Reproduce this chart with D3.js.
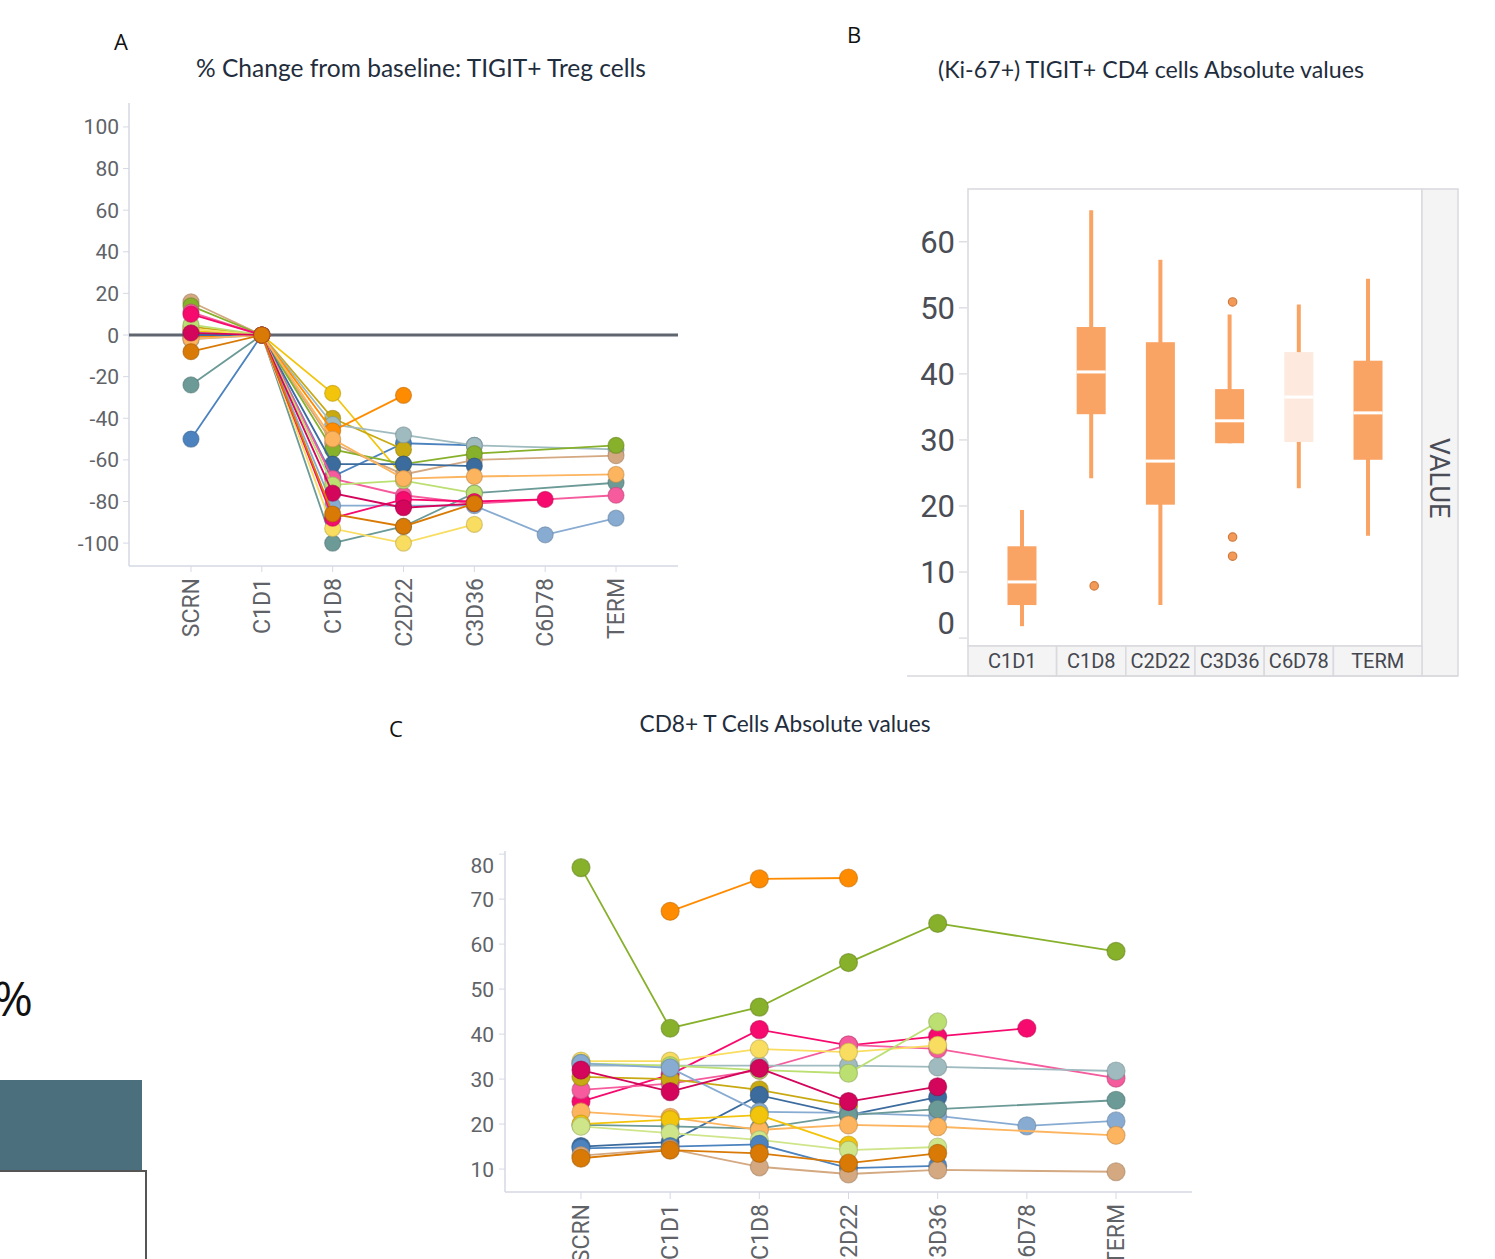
<!DOCTYPE html>
<html><head><meta charset="utf-8">
<script src="https://cdn.jsdelivr.net/npm/d3@7"></script>
<style>body{margin:0;background:#fff}svg{display:block}</style>
</head><body>
<svg id="chart" width="1495" height="1259"></svg>
<script>
// ---------- DATA ----------
const timeCats = ["SCRN","C1D1","C1D8","C2D22","C3D36","C6D78","TERM"];
const ticksA = [-100,-80,-60,-40,-20,0,20,40,60,80,100];
const colorsA = ["#6b9a97","#4c83bf","#f2c40c","#c8a912","#9fbbbf","#ff8c00","#d4a880","#87b02b","#3c6c9e","#f65b9e","#88abd2","#f9dd60","#bcdf72","#fdb45e","#f70a6e","#d3065c","#d97a06"];
const valsA = [
  [-24, 0, -100, -92, -76, null, -71],
  [-50, 0, -68, -52, -53, null, null],
  [2, 0, -28, -68, null, null, null],
  [4, 0, -40, -55, null, null, null],
  [1, 0, -43, -48, -53, null, -55],
  [-1, 0, -46, -29, null, null, null],
  [16, 0, -52, -67, -60, null, -58],
  [14, 0, -55, -62, -57, null, -53],
  [0, 0, -62, -62, -63, null, null],
  [11, 0, -69, -77, -81, null, -77],
  [-2, 0, -82, -82, -82, -96, -88],
  [3, 0, -93, -100, -91, null, null],
  [5, 0, -72, -70, -76, null, null],
  [-2, 0, -50, -69, -68, null, -67],
  [10, 0, -88, -79, -80, -79, null],
  [1, 0, -76, -83, -81, null, null],
  [-8, 0, -86, -92, -81, null, null]
];

const boxCats = ["C1D1","C1D8","C2D22","C3D36","C6D78","TERM"];
const boxLow  = [1.8, 24.2, 5.0, 29.5, 22.7, 15.5];
const boxQ1   = [5.0, 33.9, 20.2, 29.5, 29.7, 27.0];
const boxMed  = [8.5, 40.3, 26.8, 32.9, 36.5, 34.1];
const boxQ3   = [13.9, 47.1, 44.8, 37.7, 43.3, 42.0];
const boxHigh = [19.4, 64.8, 57.3, 49.0, 50.5, 54.4];
const boxFill = ["#f9a464","#f9a464","#f9a464","#f9a464","#fde9dd","#f9a464"];
const outlierCats = ["C1D8","C3D36","C3D36","C3D36"];
const outlierVals = [7.9, 50.9, 15.3, 12.4];
const ticksB = [0,10,20,30,40,50,60];

const ticksC = [10,20,30,40,50,60,70,80];
const colorsC = ["#87b02b","#ff8c00","#f70a6e","#f65b9e","#9fbbbf","#f9dd60","#bcdf72","#c8a912","#3c6c9e","#88abd2","#6b9a97","#fdb45e","#f2c40c","#cfe58a","#4c83bf","#d4a880","#d97a06","#d3065c"];
const valsC = [
  [77, 41.3, 46, 55.9, 64.6, null, 58.4],
  [null, 67.3, 74.5, 74.7, null, null, null],
  [25, 31, 41, 37.5, 39.5, 41.3, null],
  [27.6, 29, 32, 37.6, 36.7, null, 30.2],
  [33, 33, 33, 33, 32.7, null, 31.8],
  [34, 34, 36.7, 36, 37.5, null, null],
  [33.5, 33, 32, 31.3, 42.7, null, null],
  [30.5, 30, 27.6, 24, null, null, null],
  [15, 16, 26.4, 22, 26, null, null],
  [33.5, 32.5, 22.7, 22.5, 21.8, 19.6, 20.7],
  [19.8, 19.5, 19, 22, 23.3, null, 25.3],
  [22.7, 21.5, 18.7, 19.8, 19.4, null, 17.5],
  [20, 21, 22, 15.3, null, null, null],
  [19.5, 18, 16.5, 14.2, 14.9, null, null],
  [14.6, 15, 15.5, 10.2, 10.7, null, null],
  [13, 14.5, 10.5, 8.9, 9.8, null, 9.4],
  [12.4, 14.2, 13.5, 11.3, 13.5, null, null],
  [32, 27.2, 32.4, 25, 28.3, null, null]
];

// ---------- DRAW ----------
const svg = d3.select("#chart");
const axisCol = "#d6d9e4", labCol = "#5f6368";
const titleFont = "Lato, 'Open Sans', sans-serif";
const axFont = "Roboto, sans-serif";

function series(g, vals, colors, x, y, r) {
  vals.forEach((s, i) => {
    const pts = s.map((v, j) => ({c: timeCats[j], v})).filter(d => d.v != null);
    g.append("path").datum(pts)
      .attr("d", d3.line().x(d => x(d.c)).y(d => y(d.v)))
      .attr("fill", "none").attr("stroke", colors[i]).attr("stroke-width", 1.8);
    g.selectAll(null).data(pts).enter().append("circle")
      .attr("cx", d => x(d.c)).attr("cy", d => y(d.v)).attr("r", r)
      .attr("fill", colors[i]).attr("stroke", d3.color(colors[i]).darker(0.7)).attr("stroke-width", 1.2)
      .attr("stroke-opacity", 0.6);
  });
}

function text(x, y, str, size, opts = {}) {
  const t = svg.append("text").attr("x", x).attr("y", y).text(str)
    .attr("font-size", size).attr("font-family", opts.family || titleFont)
    .attr("fill", opts.fill || "#1f2d3d").attr("text-anchor", opts.anchor || "middle");
  if (opts.len) t.attr("textLength", opts.len).attr("lengthAdjust", "spacingAndGlyphs");
  return t;
}

// Panel letters & titles
text(121, 50, "A", 22, {fill: "#111", family: "'Open Sans', sans-serif"});
text(854, 43, "B", 22, {fill: "#111", family: "'Open Sans', sans-serif"});
text(396, 737, "C", 22, {fill: "#111", family: "'Open Sans', sans-serif"});
text(421, 77, "% Change from baseline: TIGIT+ Treg cells", 25, {len: 450});
text(1151, 78, "(Ki-67+)  TIGIT+ CD4 cells  Absolute   values", 23, {len: 426});
text(785, 732, "CD8+ T Cells Absolute values", 23, {len: 291});

// ---------- Panel A ----------
const gA = svg.append("g");
const xA = d3.scalePoint().domain(timeCats).range([129, 678]).padding(0.875);
const yA = d3.scaleLinear().domain([-111, 111.5]).range([566, 103]);
gA.append("line").attr("x1", 129).attr("x2", 129).attr("y1", 103).attr("y2", 566).attr("stroke", axisCol).attr("stroke-width", 1.5);
gA.append("line").attr("x1", 129).attr("x2", 678).attr("y1", 566).attr("y2", 566).attr("stroke", axisCol).attr("stroke-width", 1.5);
ticksA.forEach(v => {
  gA.append("line").attr("x1", 123).attr("x2", 129).attr("y1", yA(v)).attr("y2", yA(v)).attr("stroke", axisCol);
  gA.append("text").attr("x", 119).attr("y", yA(v)).attr("dy", "0.36em").attr("text-anchor", "end")
    .attr("font-family", axFont).attr("font-size", 21).attr("fill", labCol).text(v);
});
timeCats.forEach(c => {
  gA.append("line").attr("x1", xA(c)).attr("x2", xA(c)).attr("y1", 566).attr("y2", 572).attr("stroke", axisCol);
  gA.append("text").attr("transform", `translate(${xA(c)},578) rotate(-90)`).attr("dy", "0.36em")
    .attr("text-anchor", "end").attr("font-family", axFont).attr("font-size", 23).attr("fill", labCol).text(c);
});
gA.append("line").attr("x1", 129).attr("x2", 678).attr("y1", yA(0)).attr("y2", yA(0)).attr("stroke", "#5f6670").attr("stroke-width", 3);
series(gA, valsA, colorsA, xA, yA, 8);

// ---------- Panel B ----------
const gB = svg.append("g");
const xB = d3.scalePoint().domain(boxCats).range([968, 1422]).padding(0.78);
const yB = d3.scaleLinear().domain([-1.2, 68]).range([646, 189]);
const frameCol = "#d9d9de";
gB.append("rect").attr("x", 968).attr("y", 189).attr("width", 454).attr("height", 457).attr("fill", "#fff").attr("stroke", frameCol).attr("stroke-width", 1.5);
gB.append("rect").attr("x", 1422).attr("y", 189).attr("width", 36).attr("height", 487).attr("fill", "#f4f4f5").attr("stroke", frameCol).attr("stroke-width", 1.5);
gB.append("text").attr("transform", `translate(1440,478) rotate(90)`).attr("dy", "0.36em").attr("text-anchor", "middle")
  .attr("font-family", axFont).attr("font-size", 27).attr("fill", "#4a4d55").text("VALUE");
const edges = [968].concat(boxCats.slice(1).map((c, i) => (xB(boxCats[i]) + xB(c)) / 2), [1422]);
boxCats.forEach((c, i) => {
  gB.append("rect").attr("x", edges[i]).attr("y", 646).attr("width", edges[i + 1] - edges[i]).attr("height", 30)
    .attr("fill", "#f4f4f5").attr("stroke", frameCol).attr("stroke-width", 1.5);
  gB.append("text").attr("x", (edges[i] + edges[i + 1]) / 2).attr("y", 661).attr("dy", "0.36em").attr("text-anchor", "middle")
    .attr("font-family", axFont).attr("font-size", 20).attr("fill", "#44474f").text(c);
});
gB.append("line").attr("x1", 907).attr("x2", 1458).attr("y1", 676).attr("y2", 676).attr("stroke", frameCol).attr("stroke-width", 1.5);
ticksB.forEach(v => {
  gB.append("line").attr("x1", 959).attr("x2", 967).attr("y1", yB(v)).attr("y2", yB(v)).attr("stroke", "#d0d0d6");
  gB.append("text").attr("x", 955).attr("y", Math.min(yB(v), 623)).attr("dy", "0.36em").attr("text-anchor", "end")
    .attr("font-family", axFont).attr("font-size", 31).attr("fill", "#4a4d55").text(v);
});
const bw = 29;
boxCats.forEach((c, i) => {
  const cx = xB(c);
  gB.append("line").attr("x1", cx).attr("x2", cx).attr("y1", yB(boxLow[i])).attr("y2", yB(boxHigh[i]))
    .attr("stroke", "#f9a464").attr("stroke-width", 4);
  gB.append("rect").attr("x", cx - bw / 2).attr("width", bw).attr("y", yB(boxQ3[i])).attr("height", yB(boxQ1[i]) - yB(boxQ3[i]))
    .attr("fill", boxFill[i]);
  gB.append("line").attr("x1", cx - bw / 2).attr("x2", cx + bw / 2).attr("y1", yB(boxMed[i])).attr("y2", yB(boxMed[i]))
    .attr("stroke", "#fff").attr("stroke-width", 3);
});
outlierCats.forEach((c, i) => {
  gB.append("circle").attr("cx", xB(c) + 3).attr("cy", yB(outlierVals[i])).attr("r", 4.2)
    .attr("fill", "#f39a58").attr("stroke", "#cf7a3c").attr("stroke-width", 1.2);
});

// ---------- Panel C ----------
const gC = svg.append("g");
const xC = d3.scalePoint().domain(timeCats).range([505, 1192]).padding(0.852);
const yC = d3.scaleLinear().domain([4.9, 80.7]).range([1192, 851]);
gC.append("line").attr("x1", 505).attr("x2", 505).attr("y1", 851).attr("y2", 1192).attr("stroke", axisCol).attr("stroke-width", 1.5);
gC.append("line").attr("x1", 505).attr("x2", 1192).attr("y1", 1192).attr("y2", 1192).attr("stroke", axisCol).attr("stroke-width", 1.5);
ticksC.forEach(v => {
  gC.append("line").attr("x1", 499).attr("x2", 505).attr("y1", yC(v)).attr("y2", yC(v)).attr("stroke", axisCol);
  gC.append("text").attr("x", 494).attr("y", Math.max(yC(v), 865)).attr("dy", "0.36em").attr("text-anchor", "end")
    .attr("font-family", axFont).attr("font-size", 21).attr("fill", labCol).text(v);
});
timeCats.forEach(c => {
  gC.append("line").attr("x1", xC(c)).attr("x2", xC(c)).attr("y1", 1192).attr("y2", 1199).attr("stroke", axisCol);
  gC.append("text").attr("transform", `translate(${xC(c)},1204) rotate(-90)`).attr("dy", "0.36em")
    .attr("text-anchor", "end").attr("font-family", axFont).attr("font-size", 23).attr("fill", labCol).text(c);
});
series(gC, valsC, colorsC, xC, yC, 9);

// ---------- cropped slide remnants (bottom-left) ----------
text(33, 1016, "%", 48, {fill: "#111", anchor: "end", family: "'Open Sans', sans-serif"});
svg.append("rect").attr("x", 0).attr("y", 1080).attr("width", 142).attr("height", 90).attr("fill", "#4b6f7c");
svg.append("path").attr("d", "M0,1171 H146 V1259").attr("fill", "none").attr("stroke", "#555").attr("stroke-width", 2);
</script>
</body></html>
